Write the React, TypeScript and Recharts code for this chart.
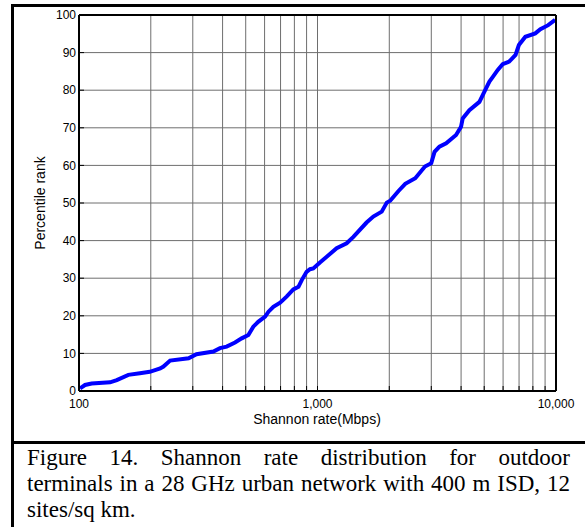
import { LineChart, Line, XAxis, YAxis, CartesianGrid, Label } from "recharts";

// Shannon rate (Mbps) vs percentile rank
const rate = [
  101, 106, 113, 135, 144, 161, 180, 198, 219, 226, 241, 288, 311, 366, 390, 416,
  451, 481, 513, 538, 564, 603, 623, 653, 697, 742, 792, 832, 859, 900, 930, 960,
  1024, 1093, 1203, 1325, 1414, 1606, 1714, 1859, 1952, 2017, 2186, 2333, 2570,
  2822, 2999, 3095, 3245, 3462, 3810, 3998, 4063, 4334, 4774, 5011, 5258, 5444,
  5700, 5977, 6362, 6767, 6988, 7439, 8187, 8600, 9275, 9916,
];
const pct = [
  0.7, 1.6, 2.0, 2.3, 2.9, 4.3, 4.7, 5.1, 6.0, 6.5, 8.1, 8.7, 9.8, 10.5, 11.4, 11.8,
  12.9, 14.0, 14.9, 17.1, 18.4, 19.8, 21.1, 22.4, 23.5, 25.1, 27.0, 27.7, 29.5, 31.7, 32.4, 32.6,
  34.2, 35.7, 38.0, 39.3, 41.0, 44.8, 46.4, 47.7, 50.1, 50.6, 53.2, 55.1, 56.6,
  59.7, 60.6, 63.6, 65.0, 65.9, 68.1, 70.3, 72.5, 74.7, 76.9, 79.6, 82.3, 83.6,
  85.4, 86.9, 87.6, 89.4, 92.0, 94.2, 95.1, 96.2, 97.3, 98.7,
];

const xTicks = [100, 200, 300, 400, 500, 600, 700, 800, 900, 1000, 2000, 3000, 4000, 5000, 6000, 7000, 8000, 9000, 10000];
const yTicks = [0, 10, 20, 30, 40, 50, 60, 70, 80, 90, 100];
const xLabels: Record<number, string> = { 100: "100", 1000: "1,000", 10000: "10,000" };

// caption, broken the way the original figure wraps it
const captionLines = [
  "Figure 14. Shannon rate distribution for outdoor",
  "terminals in a 28 GHz urban network with 400 m ISD, 12",
  "sites/sq km.",
];

const data = rate.map((r, i) => ({ rate: r, pct: pct[i] }));

const sans = "'Liberation Sans', Arial, sans-serif";
const tickStyle = { fontSize: 12, fill: "#000", fontFamily: sans };
const axisLine = { stroke: "#000", strokeWidth: 2 };
const tickLine = { stroke: "#000", strokeWidth: 1 };

export default function App() {
  return (
    <div style={{ position: "absolute", left: 0, top: 0, width: 585, height: 527, background: "#fff", overflow: "hidden" }}>
      {/* frame */}
      <div style={{ position: "absolute", left: 11, top: 4, width: 3, height: 523, background: "#000" }} />
      <div style={{ position: "absolute", left: 11, top: 4, width: 574, height: 3, background: "#000" }} />
      <div style={{ position: "absolute", left: 11, top: 441, width: 574, height: 3, background: "#000" }} />

      <LineChart
        width={585}
        height={440}
        data={data}
        margin={{ top: 14, right: 28, bottom: 9, left: 0 }}
        style={{ position: "absolute", left: 0, top: 0 }}
      >
        <CartesianGrid stroke="#6e6e6e" strokeWidth={1} />
        <XAxis
          dataKey="rate"
          type="number"
          scale="log"
          domain={[100, 10000]}
          ticks={xTicks}
          interval={0}
          tickFormatter={(v: number) => xLabels[v] ?? ""}
          tick={tickStyle}
          axisLine={axisLine}
          tickLine={tickLine}
          tickSize={-5}
          tickMargin={13}
          height={40}
          allowDataOverflow
        >
          <Label
            content={() => (
              <text x={317} y={424} textAnchor="middle" fontSize={14} fontFamily={sans} fill="#000">
                Shannon rate(Mbps)
              </text>
            )}
          />
        </XAxis>
        <XAxis
          xAxisId="top"
          orientation="top"
          dataKey="rate"
          type="number"
          scale="log"
          domain={[100, 10000]}
          ticks={xTicks}
          interval={0}
          tick={false}
          axisLine={axisLine}
          tickLine={tickLine}
          tickSize={-5}
          height={1}
          allowDataOverflow
        />
        <YAxis
          type="number"
          domain={[0, 100]}
          ticks={yTicks}
          interval={0}
          tick={tickStyle}
          axisLine={axisLine}
          tickLine={tickLine}
          tickSize={-5}
          tickMargin={8}
          width={79}
        >
          <Label
            content={() => (
              <text x={45} y={203} transform="rotate(-90 45 203)" textAnchor="middle" fontSize={14} fontFamily={sans} fill="#000">
                Percentile rank
              </text>
            )}
          />
        </YAxis>
        <YAxis
          yAxisId="right"
          orientation="right"
          type="number"
          domain={[0, 100]}
          ticks={yTicks}
          interval={0}
          tick={false}
          axisLine={axisLine}
          tickLine={tickLine}
          tickSize={-5}
          width={1}
        />
        <Line
          type="linear"
          dataKey="pct"
          stroke="#0000ff"
          strokeWidth={4}
          dot={false}
          isAnimationActive={false}
        />
      </LineChart>

      <div
        style={{
          position: "absolute",
          left: 27,
          top: 445,
          width: 543,
          fontFamily: "'Liberation Serif', 'Times New Roman', serif",
          fontSize: 23,
          lineHeight: "26px",
          color: "#000",
        }}
      >
        {captionLines.map((line, i) => (
          <div
            key={i}
            style={{
              textAlign: i < captionLines.length - 1 ? "justify" : "left",
              textAlignLast: i < captionLines.length - 1 ? "justify" : "left",
            }}
          >
            {line}
          </div>
        ))}
      </div>
    </div>
  );
}
